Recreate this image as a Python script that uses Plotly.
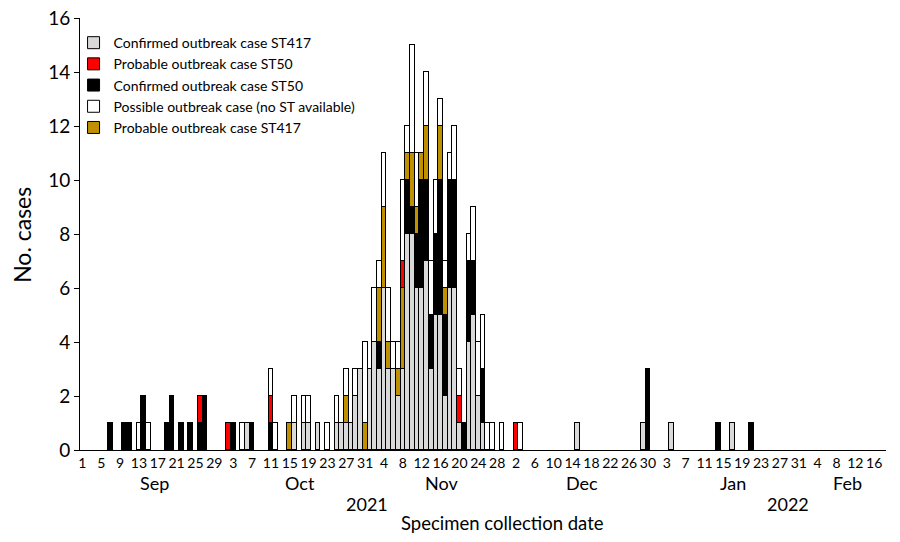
import pandas as pd
import plotly.graph_objects as go

# ---- data (cases per specimen collection date) ----
dates = [
    "2021-09-07", "2021-09-10", "2021-09-11", "2021-09-13", "2021-09-14", "2021-09-15",
    "2021-09-19", "2021-09-20", "2021-09-22", "2021-09-24", "2021-09-26", "2021-09-27",
    "2021-10-02", "2021-10-03", "2021-10-05", "2021-10-06", "2021-10-07", "2021-10-11",
    "2021-10-12", "2021-10-15", "2021-10-16", "2021-10-18", "2021-10-19", "2021-10-21",
    "2021-10-23", "2021-10-25", "2021-10-26", "2021-10-27", "2021-10-28", "2021-10-29",
    "2021-10-30", "2021-10-31", "2021-11-01", "2021-11-02", "2021-11-03", "2021-11-04",
    "2021-11-05", "2021-11-06", "2021-11-07", "2021-11-08", "2021-11-09", "2021-11-10",
    "2021-11-11", "2021-11-12", "2021-11-13", "2021-11-14", "2021-11-15", "2021-11-16",
    "2021-11-17", "2021-11-18", "2021-11-19", "2021-11-20", "2021-11-21", "2021-11-22",
    "2021-11-23", "2021-11-24", "2021-11-25", "2021-11-26", "2021-11-27", "2021-11-29",
    "2021-12-02", "2021-12-03", "2021-12-15", "2021-12-29", "2021-12-30", "2022-01-04",
    "2022-01-14", "2022-01-17", "2022-01-21",
]
confirmed_st417 = [
    0, 0, 0, 0, 0, 0,
    0, 0, 0, 0, 0, 0,
    0, 0, 0, 1, 0, 0,
    0, 0, 1, 1, 1, 1,
    0, 1, 1, 1, 1, 2,
    3, 0, 3, 4, 3, 6,
    3, 3, 2, 3, 8, 8,
    6, 6, 7, 3, 5, 5,
    2, 6, 6, 1, 0, 4,
    5, 2, 1, 0, 0, 0,
    0, 0, 1, 1, 0, 1,
    0, 1, 0,
]
probable_st50 = [
    0, 0, 0, 0, 0, 0,
    0, 0, 0, 0, 1, 0,
    1, 0, 0, 0, 0, 1,
    0, 0, 0, 0, 0, 0,
    0, 0, 0, 0, 0, 0,
    0, 0, 0, 0, 0, 0,
    0, 0, 0, 1, 0, 0,
    0, 0, 0, 0, 0, 0,
    0, 0, 0, 1, 0, 0,
    0, 0, 0, 0, 0, 0,
    1, 0, 0, 0, 0, 0,
    0, 0, 0,
]
confirmed_st50 = [
    1, 1, 1, 0, 2, 0,
    1, 2, 1, 1, 1, 2,
    0, 1, 0, 0, 1, 1,
    0, 0, 0, 0, 0, 0,
    0, 0, 0, 0, 0, 0,
    0, 0, 0, 0, 1, 0,
    0, 0, 0, 0, 2, 1,
    2, 4, 3, 2, 3, 5,
    3, 4, 4, 0, 1, 3,
    2, 0, 2, 0, 0, 0,
    0, 0, 0, 0, 3, 0,
    1, 0, 1,
]
possible_no_st = [
    0, 0, 0, 1, 0, 1,
    0, 0, 0, 0, 0, 0,
    0, 0, 1, 0, 0, 1,
    1, 0, 1, 1, 1, 0,
    1, 1, 0, 1, 0, 1,
    0, 3, 0, 2, 1, 2,
    2, 1, 1, 3, 1, 4,
    2, 0, 2, 2, 2, 1,
    1, 1, 2, 1, 0, 1,
    2, 2, 2, 1, 1, 1,
    0, 1, 0, 0, 0, 0,
    0, 0, 0,
]
probable_st417 = [
    0, 0, 0, 0, 0, 0,
    0, 0, 0, 0, 0, 0,
    0, 0, 0, 0, 0, 0,
    0, 1, 0, 0, 0, 0,
    0, 0, 0, 1, 0, 0,
    0, 1, 0, 0, 2, 3,
    1, 0, 1, 3, 1, 2,
    1, 1, 2, 0, 0, 2,
    1, 0, 0, 0, 0, 0,
    0, 0, 0, 0, 0, 0,
    0, 0, 0, 0, 0, 0,
    0, 0, 0,
]

tick_labels = ["1", "5", "9", "13", "17", "21", "25", "29", "3", "7", "11", "15", "19",
               "23", "27", "31", "4", "8", "12", "16", "20", "24", "28", "2", "6", "10",
               "14", "18", "22", "26", "30", "3", "7", "11", "15", "19", "23", "27", "31",
               "4", "8", "12", "16"]
tick_dates = pd.date_range("2021-09-01", periods=len(tick_labels), freq="4D")

month_labels = ["Sep", "Oct", "Nov", "Dec", "Jan", "Feb"]
year_labels = ["2021", "2022"]

FONT = "Lato, 'Open Sans', sans-serif"
DAY_MS = 86400000

# stacking order bottom -> top, with legend rank giving the legend order
series = [
    ("Confirmed outbreak case ST417", confirmed_st417, "#d9d9d9", 1),
    ("Confirmed outbreak case ST50", confirmed_st50, "#000000", 3),
    ("Probable outbreak case ST417", probable_st417, "#bf9000", 5),
    ("Probable outbreak case ST50", probable_st50, "#ff0000", 2),
    ("Possible outbreak case (no ST available)", possible_no_st, "#ffffff", 4),
]

fig = go.Figure()
for name, vals, color, rank in series:
    fig.add_trace(go.Bar(
        x=dates, y=vals, name=name, width=DAY_MS,
        marker=dict(color=color, line=dict(color="#000000", width=1)),
        legendrank=rank,
    ))

fig.update_layout(
    barmode="stack", bargap=0,
    width=900, height=542,
    margin=dict(l=80, r=14, t=18, b=92, autoexpand=False),
    plot_bgcolor="white", paper_bgcolor="white",
    font=dict(family=FONT, color="#000000"),
    showlegend=True,
    legend=dict(x=-0.008, y=0.979, xanchor="left", yanchor="top",
                traceorder="normal",
                font=dict(size=14, family=FONT), bgcolor="rgba(0,0,0,0)",
                tracegroupgap=0, itemwidth=30),
)
fig.update_xaxes(
    type="date",
    range=["2021-08-31 12:00", "2022-02-18 12:00"],
    tickvals=tick_dates, ticktext=tick_labels, tickangle=0,
    tickfont=dict(size=14, family=FONT),
    showline=True, linecolor="#000000", linewidth=1,
    showgrid=False, zeroline=False, ticks="", automargin=False,
)
fig.update_yaxes(
    range=[0, 16], dtick=2,
    tickfont=dict(size=19, family=FONT),
    showline=True, linecolor="#000000", linewidth=1,
    ticks="outside", ticklen=5, tickcolor="#000000",
    showgrid=False, zeroline=False, automargin=False,
)

month_x = [0.092, 0.2725, 0.449, 0.6225, 0.81, 0.9527]
for m, xp in zip(month_labels, month_x):
    fig.add_annotation(text=m, x=xp, y=-0.077, xref="paper", yref="paper",
                       showarrow=False, font=dict(size=18, family=FONT),
                       xanchor="center", yanchor="middle")
for yl, xp in zip(year_labels, [0.3563, 0.8789]):
    fig.add_annotation(text=yl, x=xp, y=-0.126, xref="paper", yref="paper",
                       showarrow=False, font=dict(size=18, family=FONT),
                       xanchor="center", yanchor="middle")
fig.add_annotation(text="Specimen collection date", x=0.5238, y=-0.168,
                   xref="paper", yref="paper", showarrow=False,
                   font=dict(size=18.5, family=FONT), xanchor="center", yanchor="middle")
fig.add_annotation(text="No. cases", x=-0.072, y=0.498, xref="paper", yref="paper",
                   showarrow=False, textangle=-90, font=dict(size=23, family=FONT),
                   xanchor="center", yanchor="middle")

# remove the browser's default 8px page margin so the 900x542 figure fills the window
fig.write_html("out.html",
               config={"displayModeBar": False},
               post_script="document.body.style.margin='0';document.body.style.overflow='hidden';")
